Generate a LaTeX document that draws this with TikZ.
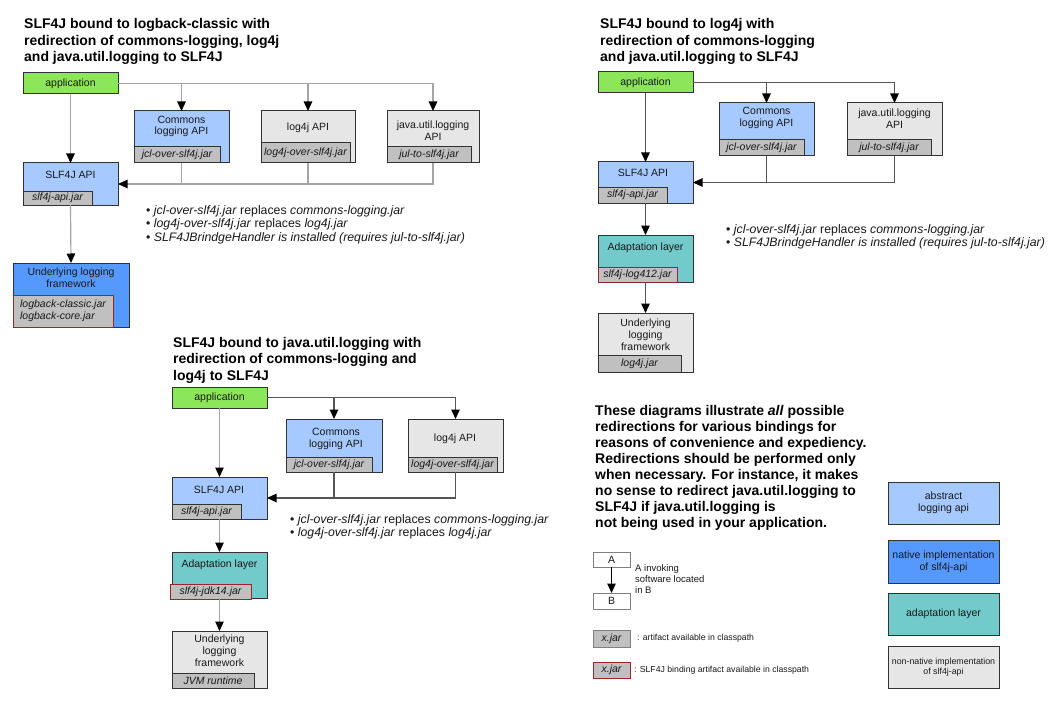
\documentclass[tikz,border=0pt]{standalone}
\usepackage{fontspec}
\setmainfont{Liberation Sans}
\usetikzlibrary{arrows.meta,calc}
\definecolor{appgreen}{RGB}{140,230,90}
\definecolor{lblue}{RGB}{166,202,255}
\definecolor{nblue}{RGB}{85,153,255}
\definecolor{tealbox}{RGB}{114,203,202}
\definecolor{lgraybox}{RGB}{230,230,230}
\definecolor{jargray}{RGB}{192,192,192}
\definecolor{redb}{RGB}{150,40,40}
\definecolor{bordc}{RGB}{50,50,50}
\definecolor{txtc}{RGB}{25,25,25}
\definecolor{lline}{RGB}{165,165,165}
\definecolor{dline}{RGB}{85,85,85}
\newcommand{\bxfont}{\fontsize{10.5}{11.8}\selectfont}
\newcommand{\jrfont}{\fontsize{10.5}{11.8}\selectfont\itshape}
\newcommand{\ttlfont}{\fontsize{14}{16.5}\selectfont\bfseries}
\newcommand{\blfont}{\fontsize{12.3}{13.6}\selectfont}
\begin{document}
\begin{tikzpicture}[x=1pt,y=-1pt,
  box/.style={draw=bordc,line width=1pt,anchor=north west,inner sep=0pt,outer sep=0pt,font=\bxfont,text=txtc,align=center},
  jar/.style={draw=bordc,fill=jargray,line width=1pt,anchor=south west,inner sep=0pt,outer sep=0pt,minimum height=16pt,font=\jrfont,text=txtc},
  btxt/.style={inner sep=0pt,font=\bxfont,align=center,text=txtc},
  ttl/.style={anchor=north west,inner sep=0pt,font=\ttlfont,align=left,text=black},
  bul/.style={anchor=north west,inner sep=0pt,font=\blfont,align=left,text=txtc},
  lconn/.style={draw=lline,line width=1.2pt},
  dconn/.style={draw=dline,line width=1.2pt},
  arr/.style={-{Triangle[length=9.5pt,width=8.5pt,color=black]}}
]
\useasboundingbox (0,0) rectangle (1056,714);
\fill[white] (0,0) rectangle (1056,714);

% ---------------- top-left diagram ----------------
\node[ttl] (tlttl) at (24,18.5) {SLF4J bound to logback-classic with\\redirection of commons-logging, log4j\\and java.util.logging to SLF4J};
\node[box,fill=appgreen,minimum width=95pt,minimum height=21pt] (tlapp) at (23,73) {application};
\node[box,fill=lblue,minimum width=95pt,minimum height=52pt] (tlcl) at (134,111) {};
\node[jar,minimum width=86pt] (tlclj) at (tlcl.south west) {jcl-over-slf4j.jar};
\node[btxt] (tlclt) at (181.5,126.5) {Commons\\logging API};
\node[box,fill=lgraybox,minimum width=94pt,minimum height=52pt] (tll4) at (261,111) {};
\node[jar,minimum width=89pt,minimum height=20pt] (tll4j) at (tll4.south west) {log4j-over-slf4j.jar};
\node[btxt] (tll4t) at (308,127.5) {log4j API};
\node[box,fill=lgraybox,minimum width=92pt,minimum height=52pt] (tljul) at (387,111) {};
\node[jar,minimum width=84pt] (tljulj) at (tljul.south west) {jul-to-slf4j.jar};
\node[btxt] (tljult) at (433,130.5) {java.util.logging\\API};
\node[box,fill=lblue,minimum width=95pt,minimum height=42pt] (tlapi) at (23,163) {};
\node[jar,minimum width=69pt,minimum height=14pt] (tlapij) at (tlapi.south west) {slf4j-api.jar};
\node[btxt] (tlapit) at (70.5,174.5) {SLF4J API};
\node[box,fill=nblue,minimum width=116pt,minimum height=64pt] (tlul) at (13,263) {};
\node[jar,draw=redb,minimum width=100pt,minimum height=32pt,align=left] (tlulj) at (tlul.south west) {logback-classic.jar\\logback-core.jar};
\node[btxt] (tlult) at (71,277.5) {Underlying logging\\framework};

\draw[lconn,arr] (tlapp.east) -| (tljul.north);
\draw[lconn,arr] (tlapp.east -| tlcl.north) -- (tlcl.north);
\draw[lconn,arr] (tlapp.east -| tll4.north) -- (tll4.north);
\draw[lconn,arr] (tlapp.south) -- (tlapi.north);
\draw[lconn,arr] (tljul.south) |- (tlapi.east);
\draw[lconn] (tlcl.south) -- (tlcl.south |- tlapi.east);
\draw[lconn] (tll4.south) -- (tll4.south |- tlapi.east);
\draw[lconn,arr] (tlapi.south) -- (tlul.north);

\node[bul] (tlbul) at (146,205) {• \textit{jcl-over-slf4j.jar} replaces \textit{commons-logging.jar}\\• \textit{log4j-over-slf4j.jar} replaces \textit{log4j.jar}\\• \textit{SLF4JBrindgeHandler is installed (requires jul-to-slf4j.jar)}};

% ---------------- top-right diagram ----------------
\node[ttl] (trttl) at (600,18.5) {SLF4J bound to log4j with\\redirection of commons-logging\\and java.util.logging to SLF4J};
\node[box,fill=appgreen,minimum width=95pt,minimum height=21pt] (trapp) at (598,72) {application};
\node[box,fill=lblue,minimum width=95pt,minimum height=53pt] (trcl) at (719,103) {};
\node[jar,minimum width=85pt] (trclj) at (trcl.south west) {jcl-over-slf4j.jar};
\node[btxt] (trclt) at (766.5,118) {Commons\\logging API};
\node[box,fill=lgraybox,minimum width=95pt,minimum height=53pt] (trjul) at (847,103) {};
\node[jar,minimum width=84pt] (trjulj) at (trjul.south west) {jul-to-slf4j.jar};
\node[btxt] (trjult) at (894.5,119) {java.util.logging\\API};
\node[box,fill=lblue,minimum width=95pt,minimum height=41pt] (trapi) at (598,162) {};
\node[jar,minimum width=69pt] (trapij) at (trapi.south west) {slf4j-api.jar};
\node[btxt] (trapit) at (643,172.5) {SLF4J API};
\node[box,fill=tealbox,minimum width=95pt,minimum height=47pt] (trad) at (598,235) {};
\node[jar,draw=redb,minimum width=79pt,minimum height=15pt] (tradj) at (trad.south west) {slf4j-log412.jar};
\node[btxt] (tradt) at (645.5,247.5) {Adaptation layer};
\node[box,fill=lgraybox,minimum width=95pt,minimum height=59pt] (trul) at (598,313) {};
\node[jar,minimum width=83pt,minimum height=17pt] (trulj) at (trul.south west) {log4j.jar};
\node[btxt] (trult) at (645.5,334.5) {Underlying\\logging\\framework};

\draw[dconn,arr] (trapp.east) -| (trjul.north);
\draw[dconn,arr] (trapp.east -| trcl.north) -- (trcl.north);
\draw[dconn,arr] (trapp.south) -- (trapi.north);
\draw[dconn,arr] (trjul.south) |- (trapi.east);
\draw[dconn] (trcl.south) -- (trcl.south |- trapi.east);
\draw[dconn,arr] (trapi.south) -- (trad.north);
\draw[dconn,arr] (trad.south) -- (trul.north);

\node[bul] (trbul) at (726,224) {• \textit{jcl-over-slf4j.jar} replaces \textit{commons-logging.jar}\\• \textit{SLF4JBrindgeHandler is installed (requires jul-to-slf4j.jar)}};

% ---------------- bottom diagram ----------------
\node[ttl] (bmttl) at (173,337) {SLF4J bound to java.util.logging with\\redirection of commons-logging and\\log4j to SLF4J};
\node[box,fill=appgreen,minimum width=95pt,minimum height=21pt] (bmapp) at (172,387) {application};
\node[box,fill=lblue,minimum width=96pt,minimum height=53pt] (bmcl) at (286,419) {};
\node[jar,minimum width=86pt,minimum height=15pt] (bmclj) at (bmcl.south west) {jcl-over-slf4j.jar};
\node[btxt] (bmclt) at (336,439) {Commons\\logging API};
\node[box,fill=lgraybox,minimum width=95pt,minimum height=53pt] (bml4) at (408,419) {};
\node[jar,minimum width=89pt,minimum height=15pt] (bml4j) at (bml4.south west) {log4j-over-slf4j.jar};
\node[btxt] (bml4t) at (455,439) {log4j API};
\node[box,fill=lblue,minimum width=95pt,minimum height=42pt] (bmapi) at (172,477) {};
\node[jar,minimum width=69pt,minimum height=15pt] (bmapij) at (bmapi.south west) {slf4j-api.jar};
\node[btxt] (bmapit) at (219,490) {SLF4J API};
\node[box,fill=tealbox,minimum width=95pt,minimum height=46pt] (bmad) at (172,552) {};
\node[jar,draw=redb,minimum width=81pt,minimum height=15pt] (bmadj) at ($(bmad.south west)+(-2,1)$) {slf4j-jdk14.jar};
\node[btxt] (bmadt) at (219.5,565) {Adaptation layer};
\node[box,fill=lgraybox,minimum width=95pt,minimum height=57pt] (bmul) at (172,631) {};
\node[jar,minimum width=82pt,minimum height=15pt] (bmulj) at (bmul.south west) {JVM runtime};
\node[btxt] (bmult) at (219.5,651) {Underlying\\logging\\framework};

\draw[dconn,arr] (bmapp.east) -| (bml4.north);
\draw[dconn,arr] (bmapp.east -| bmcl.north) -- (bmcl.north);
\draw[lconn,arr] (bmapp.south) -- (bmapi.north);
\draw[dconn,arr] (bml4.south) |- (bmapi.east);
\draw[dconn] (bmcl.south) -- (bmcl.south |- bmapi.east);
\draw[lconn,arr] (bmapi.south) -- (bmad.north);
\draw[lconn,arr] (bmad.south) -- (bmul.north);

\node[bul] (bmbul) at (290,514) {• \textit{jcl-over-slf4j.jar} replaces \textit{commons-logging.jar}\\• \textit{log4j-over-slf4j.jar} replaces \textit{log4j.jar}};

% ---------------- explanation ----------------
\node[ttl,font=\fontsize{14}{16}\selectfont\bfseries] (para) at (595,405) {These diagrams illustrate \textit{all} possible\\redirections for various bindings for\\reasons of convenience and expediency.\\Redirections should be performed only\\when necessary. For instance, it makes\\no sense to redirect java.util.logging to\\SLF4J if java.util.logging is\\not being used in your application.};

% ---------------- legend ----------------
\node[box,draw=gray,fill=white,minimum width=37pt,minimum height=15pt] (lga) at (593,552) {A};
\node[box,draw=gray,fill=white,minimum width=37pt,minimum height=16pt] (lgb) at (593,593) {B};
\draw[black,line width=1.2pt,arr] (lga.south) -- (lgb.north);
\node[bul,font=\fontsize{9.5}{11}\selectfont] (lgat) at (635,564.5) {A invoking\\software located\\in B};
\node[box,draw=gray,fill=jargray,minimum width=37pt,minimum height=17pt,font=\jrfont] (lgj1) at (593,630) {x.jar};
\node[anchor=west,inner sep=0pt,font=\fontsize{8.7}{10}\selectfont,text=txtc] (lgj1t) at (637,638.5) {: artifact available in classpath};
\node[box,draw=redb,fill=jargray,minimum width=37pt,minimum height=16pt,font=\jrfont] (lgj2) at (593,662) {x.jar};
\node[anchor=west,inner sep=0pt,font=\fontsize{8.7}{10}\selectfont,text=txtc] (lgj2t) at (634,670) {: SLF4J binding artifact available in classpath};

\node[box,fill=lblue,minimum width=111pt,minimum height=42pt] (lgabs) at (888,482) {abstract\\logging api};
\node[box,fill=nblue,minimum width=111pt,minimum height=43pt] (lgnat) at (888,540) {native implementation\\of slf4j-api};
\node[box,fill=tealbox,minimum width=111pt,minimum height=42pt] (lgada) at (888,593) {adaptation layer};
\node[box,fill=lgraybox,minimum width=111pt,minimum height=42pt,font=\fontsize{8.8}{10.2}\selectfont] (lgnon) at (888,646) {non-native implementation\\of slf4j-api};
\end{tikzpicture}
\end{document}
